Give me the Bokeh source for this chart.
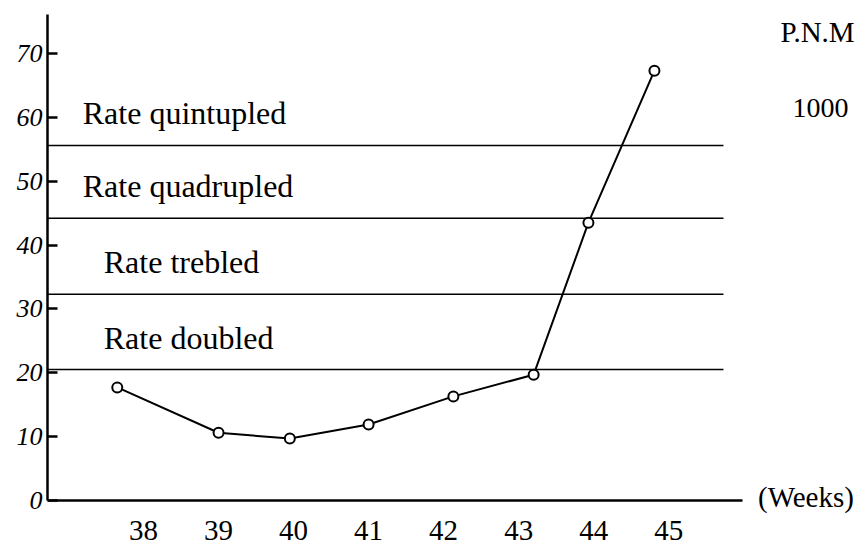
from bokeh.plotting import figure
from bokeh.models import Range1d, FixedTicker, Label, ColumnDataSource
from bokeh.embed import file_html
from bokeh.resources import INLINE

# ---- data ----
weeks = [37.65, 39.0, 39.95, 41.0, 42.13, 43.2, 43.93, 44.81]
pnm_rate = [17.7, 10.6, 9.7, 11.9, 16.3, 19.7, 43.5, 67.3]

level_names = ["Rate doubled", "Rate trebled", "Rate quadrupled", "Rate quintupled"]
level_values = [20.5, 32.3, 44.2, 55.6]

x_ticks = [38, 39, 40, 41, 42, 43, 44, 45]
y_ticks = [0, 10, 20, 30, 40, 50, 60, 70]

SERIF = "Liberation Serif"

p = figure(width=861, height=548, output_backend="svg", toolbar_location=None,
           x_range=Range1d(36.72, 47.57), y_range=Range1d(-7.52, 76.1),
           min_border_left=47, min_border_right=0, min_border_top=14,
           min_border_bottom=0)
p.outline_line_color = None
p.grid.visible = False
p.background_fill_color = "white"
p.border_fill_color = "white"

# x axis drawn at y = 0, line stops before the right-hand texts
p.xaxis.fixed_location = 0
p.xaxis.bounds = (36.72, 45.99)
p.xaxis.ticker = FixedTicker(ticks=x_ticks)
p.xaxis.major_tick_in = 0
p.xaxis.major_tick_out = 0
p.xaxis.minor_tick_line_color = None
p.xaxis.axis_line_width = 2.5
p.xaxis.axis_line_color = "black"
p.xaxis.major_label_text_font = SERIF
p.xaxis.major_label_text_font_size = "29px"
p.xaxis.major_label_text_color = "black"
p.xaxis.major_label_standoff = 21

# y axis
p.yaxis.bounds = (0, 76.1)
p.yaxis.ticker = FixedTicker(ticks=y_ticks)
p.yaxis.major_tick_in = 10
p.yaxis.major_tick_out = 0
p.yaxis.major_tick_line_width = 2.5
p.yaxis.major_tick_line_color = "black"
p.yaxis.minor_tick_line_color = None
p.yaxis.axis_line_width = 2.5
p.yaxis.axis_line_color = "black"
p.yaxis.major_label_text_font = SERIF
p.yaxis.major_label_text_font_style = "italic"
p.yaxis.major_label_text_font_size = "26px"
p.yaxis.major_label_text_color = "black"
p.yaxis.major_label_standoff = 5

# reference levels
line_x0 = p.x_range.start
line_x1 = 45.73
lev = ColumnDataSource(dict(x0=[line_x0] * len(level_values), x1=[line_x1] * len(level_values),
                            y=level_values))
p.segment(x0="x0", y0="y", x1="x1", y1="y", source=lev, line_color="black", line_width=1.5)

# curve + points
src = ColumnDataSource(dict(x=weeks, y=pnm_rate))
p.line("x", "y", source=src, line_color="black", line_width=2)
p.scatter("x", "y", source=src, size=10, marker="circle", fill_color="white",
          line_color="black", line_width=2)

# level texts
text_pos = {
    "Rate quintupled": (37.19, 60.6),
    "Rate quadrupled": (37.19, 49.3),
    "Rate trebled": (37.47, 37.3),
    "Rate doubled": (37.47, 25.5),
}
for name in level_names:
    tx, ty = text_pos[name]
    p.add_layout(Label(x=tx, y=ty, text=name, text_font=SERIF, text_font_size="32px",
                       text_color="black", text_baseline="middle", text_align="left"))

# unit / axis texts on the right
p.add_layout(Label(x=46.49, y=73.4, text="P.N.M", text_font=SERIF, text_font_size="29px",
                   text_color="black", text_baseline="middle", text_align="left"))
p.add_layout(Label(x=46.65, y=61.5, text="1000", text_font=SERIF, text_font_size="28px",
                   text_color="black", text_baseline="middle", text_align="left"))
p.add_layout(Label(x=46.19, y=0.5, text="(Weeks)", text_font=SERIF, text_font_size="29px",
                   text_color="black", text_baseline="middle", text_align="left"))

open("out.html", "w").write(file_html(p, INLINE))
